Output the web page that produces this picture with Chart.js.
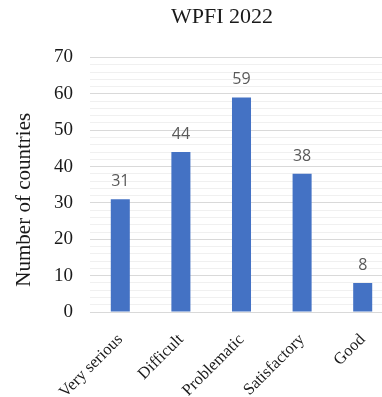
<!DOCTYPE html>
<html>
<head>
<meta charset="utf-8">
<script src="https://cdn.jsdelivr.net/npm/chart.js@4/dist/chart.umd.min.js"></script>
<style>
  html, body { margin: 0; padding: 0; background: #fff; overflow: hidden; }
  #wrap { width: 444px; height: 397px; position: relative; }
</style>
</head>
<body>
<div id="wrap"><canvas id="c"></canvas></div>
<script>
const chartTitle = "WPFI 2022";
const yAxisTitle = "Number of countries";
const categories = ["Very serious", "Difficult", "Problematic", "Satisfactory", "Good"];
const countries = [31, 44, 59, 38, 8];
const yMin = 0, yMax = 70, yStep = 2, yLabelStep = 10;

const SERIF = "'Liberation Serif', 'Times New Roman', serif";

const valueLabels = {
  id: 'valueLabels',
  afterDatasetsDraw(chart) {
    const ctx = chart.ctx;
    const meta = chart.getDatasetMeta(0);
    ctx.save();
    ctx.font = "16px 'Open Sans', sans-serif";
    ctx.fillStyle = '#595959';
    ctx.textAlign = 'center';
    ctx.textBaseline = 'alphabetic';
    meta.data.forEach((bar, i) => {
      ctx.fillText(String(chart.data.datasets[0].data[i]), bar.x, bar.y - 13);
    });
    ctx.restore();
  }
};

const textDecor = {
  id: 'textDecor',
  afterDraw(chart) {
    const ctx = chart.ctx;
    const a = chart.chartArea;
    ctx.save();
    ctx.font = "22px " + SERIF;
    ctx.fillStyle = '#1a1a1a';
    ctx.textAlign = 'center';
    ctx.textBaseline = 'middle';
    ctx.fillText(chartTitle, 222, 17);
    ctx.translate(24, (a.top + a.bottom) / 2 + 15);
    ctx.rotate(-Math.PI / 2);
    ctx.font = "21px " + SERIF;
    ctx.fillText(yAxisTitle, 0, 0);
    ctx.restore();
  }
};

new Chart(document.getElementById('c'), {
  type: 'bar',
  data: {
    labels: categories,
    datasets: [{
      data: countries,
      backgroundColor: '#4472C4',
      borderWidth: 0,
      barPercentage: 0.314,
      categoryPercentage: 1
    }]
  },
  options: {
    responsive: true,
    maintainAspectRatio: false,
    animation: false,
    devicePixelRatio: 1,
    layout: { padding: { left: 0, right: 51, top: 57.5, bottom: 0 } },
    plugins: {
      legend: { display: false },
      tooltip: { enabled: false },
      title: { display: false }
    },
    scales: {
      x: {
        grid: { display: false },
        border: { display: false },
        ticks: {
          color: '#1a1a1a',
          font: { family: SERIF, size: 16.5 },
          minRotation: 45,
          maxRotation: 45,
          padding: 10,
          autoSkip: false
        },
        afterFit(scale) { scale.height = 85; }
      },
      y: {
        min: yMin,
        max: yMax,
        border: { display: false },
        grid: {
          drawTicks: false,
          color: (c) => (c.tick && c.tick.value % yLabelStep === 0) ? '#d9d9d9' : '#f0f0f0',
          lineWidth: 1
        },
        ticks: {
          stepSize: yStep,
          autoSkip: false,
          color: '#1a1a1a',
          font: { family: SERIF, size: 19 },
          padding: 17,
          callback: (v) => (v % yLabelStep === 0 ? String(v) : '')
        },
        afterFit(scale) { scale.width = 90; }
      }
    }
  },
  plugins: [valueLabels, textDecor]
});
</script>
</body>
</html>
